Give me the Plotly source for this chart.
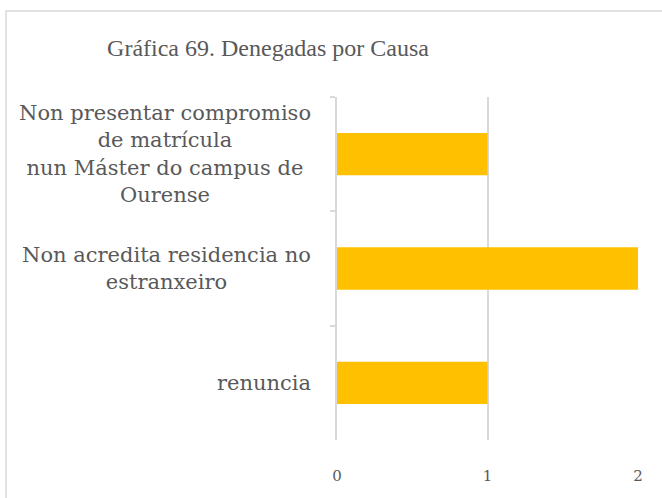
import plotly.graph_objects as go

# Causes of refusal and number of refused applications
causas = [
    "Non presentar compromiso<br>de matrícula<br>nun Máster do campus de<br>Ourense",
    "Non acredita residencia no<br>estranxeiro",
    "renuncia",
]
denegadas = [1, 2, 1]
x_ticks = [0, 1, 2]

W, H = 662, 498
ML, MR, MT, MB = 337, 24, 97, 58
PW = W - ML - MR
PH = H - MT - MB

GRID = "#d9d9d9"
TEXT = "#595959"
SERIF = "DejaVu Serif"
TITLE_SERIF = "Liberation Serif"

fig = go.Figure(
    go.Bar(
        x=denegadas,
        y=causas,
        orientation="h",
        marker=dict(color="#FFC000", line=dict(width=0)),
        hoverinfo="x+y",
    )
)

# Category labels, each line centred, block right-aligned next to the axis
for causa in causas:
    fig.add_annotation(
        x=(313 - ML) / PW, xref="paper", xanchor="right",
        y=causa, yref="y", yanchor="middle",
        text=causa, showarrow=False, align="center",
        font=dict(family=SERIF, size=21, color=TEXT),
    )

# Chart frame (runs past the right and bottom edges of the page)
fig.add_shape(
    type="rect", xref="paper", yref="paper",
    x0=(6 - ML) / PW, x1=(W + 5 - ML) / PW,
    y0=-(MB + 5) / PH, y1=(H - 11 - MB) / PH,
    line=dict(color=GRID, width=1.5), fillcolor="rgba(0,0,0,0)", layer="above",
)

fig.update_layout(
    width=W, height=H,
    margin=dict(l=ML, r=MR, t=MT, b=MB),
    paper_bgcolor="white", plot_bgcolor="white",
    bargap=0.63,
    showlegend=False,
    title=dict(
        text="Gráfica 69. Denegadas por Causa",
        x=268 / W, xref="container", xanchor="center",
        y=1 - 48 / H, yref="container", yanchor="middle",
        font=dict(family=TITLE_SERIF, size=24, color=TEXT),
    ),
    xaxis=dict(
        range=[0, 2], tickvals=x_ticks, ticktext=[str(v) for v in x_ticks],
        showgrid=True, gridcolor=GRID, gridwidth=1.5,
        zeroline=False, showline=False, ticks="",
        ticklabelstandoff=25,
        tickfont=dict(family=SERIF, size=15, color=TEXT),
        fixedrange=True,
    ),
    yaxis=dict(
        autorange="reversed",
        showticklabels=False,
        showline=True, linecolor=GRID, linewidth=1.5,
        ticks="outside", tickson="boundaries", ticklen=5, tickcolor=GRID, tickwidth=1.5,
        showgrid=False, fixedrange=True,
    ),
)

fig.write_html("out.html")
